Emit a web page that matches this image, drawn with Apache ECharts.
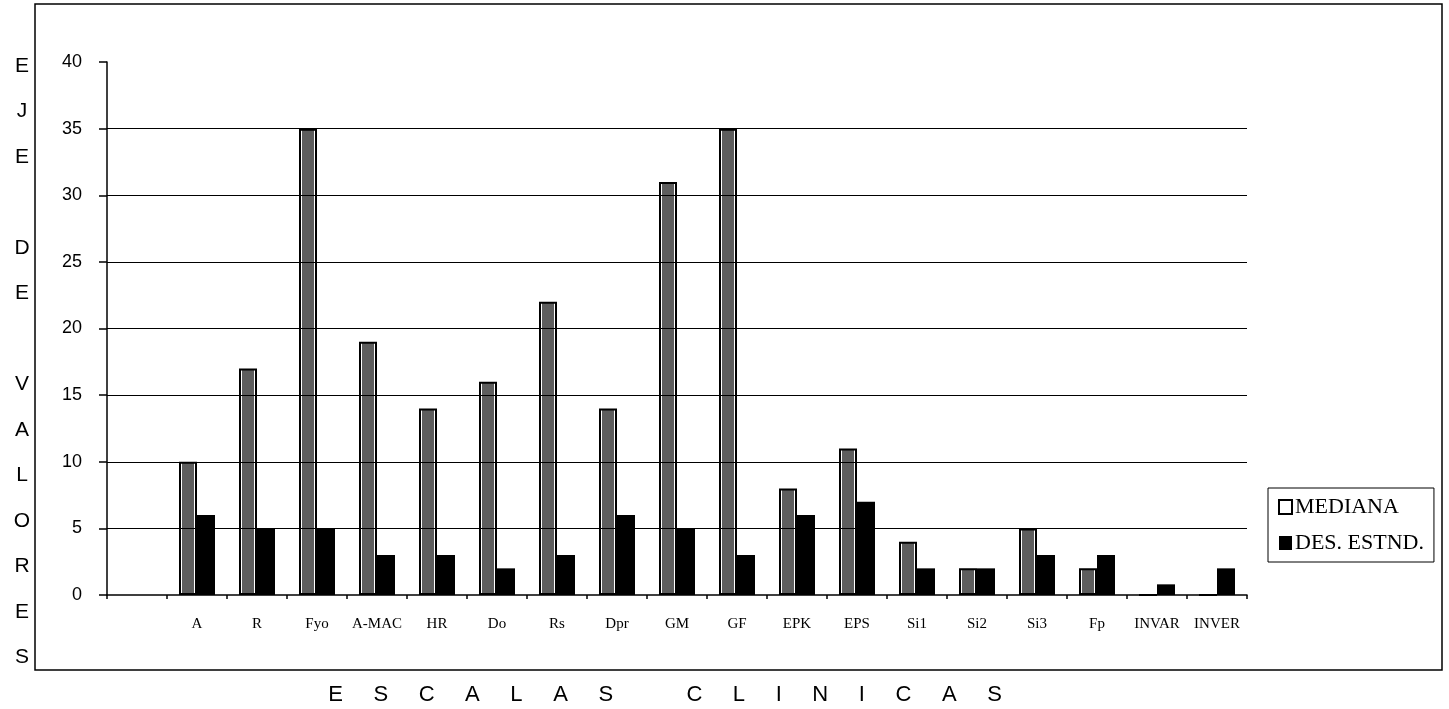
<!DOCTYPE html>
<html>
<head>
<meta charset="utf-8">
<script src="https://cdn.jsdelivr.net/npm/echarts@6/dist/echarts.min.js"></script>
<style>
html,body{margin:0;padding:0;background:#fff;}
#chart{width:1449px;height:709px;}
</style>
</head>
<body>
<div id="chart"></div>
<script>
var categories = ['', 'A', 'R', 'Fyo', 'A-MAC', 'HR', 'Do', 'Rs', 'Dpr', 'GM', 'GF', 'EPK', 'EPS', 'Si1', 'Si2', 'Si3', 'Fp', 'INVAR', 'INVER'];
var mediana = [null, 10, 17, 35, 19, 14, 16, 22, 14, 31, 35, 8, 11, 4, 2, 5, 2, 0, 0];
var desEstnd = [null, 6, 5, 5, 3, 3, 2, 3, 6, 5, 3, 6, 7, 2, 2, 3, 3, 0.8, 2];
var gridValues = [5, 10, 15, 20, 25, 30, 35];
var yTitle = ['E', 'J', 'E', '', 'D', 'E', '', 'V', 'A', 'L', 'O', 'R', 'E', 'S'];
var xTitle = 'E     S     C     A     L     A     S            C     L     I     N     I     C     A     S';

var chart = echarts.init(document.getElementById('chart'), null, {renderer: 'canvas'});
var serif = '"Liberation Serif", "Times New Roman", serif';
var sans = '"Liberation Sans", Arial, sans-serif';

var option = {
  backgroundColor: '#ffffff',
  animation: false,
  grid: {left: 107, right: 202, top: 62, bottom: 114, containLabel: false},
  legend: {
    orient: 'vertical',
    left: 1268,
    top: 488,
    padding: [8, 10, 8, 10],
    itemGap: 14,
    itemWidth: 13,
    itemHeight: 14,
    borderColor: '#000',
    borderWidth: 1,
    textStyle: {fontFamily: serif, fontSize: 22, color: '#000', padding: [0, 0, 0, -2]},
    data: [
      {name: 'MEDIANA', icon: 'rect', itemStyle: {color: '#fff', borderColor: '#000', borderWidth: 2}},
      {name: 'DES. ESTND.', icon: 'rect', itemStyle: {color: '#000', borderColor: '#000', borderWidth: 0}}
    ]
  },
  xAxis: {
    type: 'category',
    data: categories,
    boundaryGap: true,
    axisLine: {show: true, lineStyle: {color: '#000', width: 1.5}},
    axisTick: {show: true, alignWithLabel: false, length: 4, lineStyle: {color: '#000', width: 1.5}},
    axisLabel: {fontFamily: serif, fontSize: 15, color: '#000', margin: 22, interval: 0},
    splitLine: {show: false}
  },
  yAxis: {
    type: 'value',
    min: 0,
    max: 40,
    interval: 5,
    axisLine: {show: true, lineStyle: {color: '#000', width: 1.5}},
    axisTick: {show: true, length: 8, lineStyle: {color: '#000', width: 1.5}},
    axisLabel: {fontFamily: sans, fontSize: 18, color: '#000', margin: 25},
    splitLine: {show: false}
  },
  graphic: [
    {
      type: 'rect',
      shape: {x: 35, y: 4, width: 1407, height: 666},
      style: {fill: 'none', stroke: '#000', lineWidth: 1.5},
      silent: true, z: -1
    },
    {
      type: 'text',
      x: 22, y: 43,
      style: {
        text: yTitle.join('\n'),
        font: '21px ' + sans,
        fill: '#000',
        align: 'center',
        verticalAlign: 'top',
        lineHeight: 45.5
      },
      silent: true
    },
    {
      type: 'text',
      x: 665, y: 695,
      style: {
        text: xTitle,
        font: '22px ' + sans,
        fill: '#000',
        align: 'center',
        verticalAlign: 'middle'
      },
      silent: true
    }
  ],
  series: [
    {
      name: 'grid',
      type: 'line',
      data: [],
      z: 1,
      silent: true,
      markLine: {
        silent: true,
        symbol: ['none', 'none'],
        label: {show: false},
        lineStyle: {color: '#000', width: 1.2, type: 'solid'},
        data: gridValues.map(function (v) { return {yAxis: v}; })
      }
    },
    {
      name: 'MEDIANA',
      type: 'bar',
      z: 3,
      barWidth: 18,
      barGap: '0%',
      data: mediana,
      itemStyle: {
        color: {
          type: 'linear', x: 0, y: 0, x2: 1, y2: 0,
          colorStops: [
            {offset: 0, color: '#ffffff'},
            {offset: 0.16, color: '#ffffff'},
            {offset: 0.16, color: '#5e5e5e'},
            {offset: 0.84, color: '#5e5e5e'},
            {offset: 0.84, color: '#ffffff'},
            {offset: 1, color: '#ffffff'}
          ]
        },
        borderColor: '#000',
        borderWidth: 2
      }
    },
    {
      name: 'DES. ESTND.',
      type: 'bar',
      z: 3,
      barWidth: 18,
      barGap: '0%',
      data: desEstnd,
      itemStyle: {color: '#000', borderWidth: 0}
    }
  ]
};
chart.setOption(option);
</script>
</body>
</html>
